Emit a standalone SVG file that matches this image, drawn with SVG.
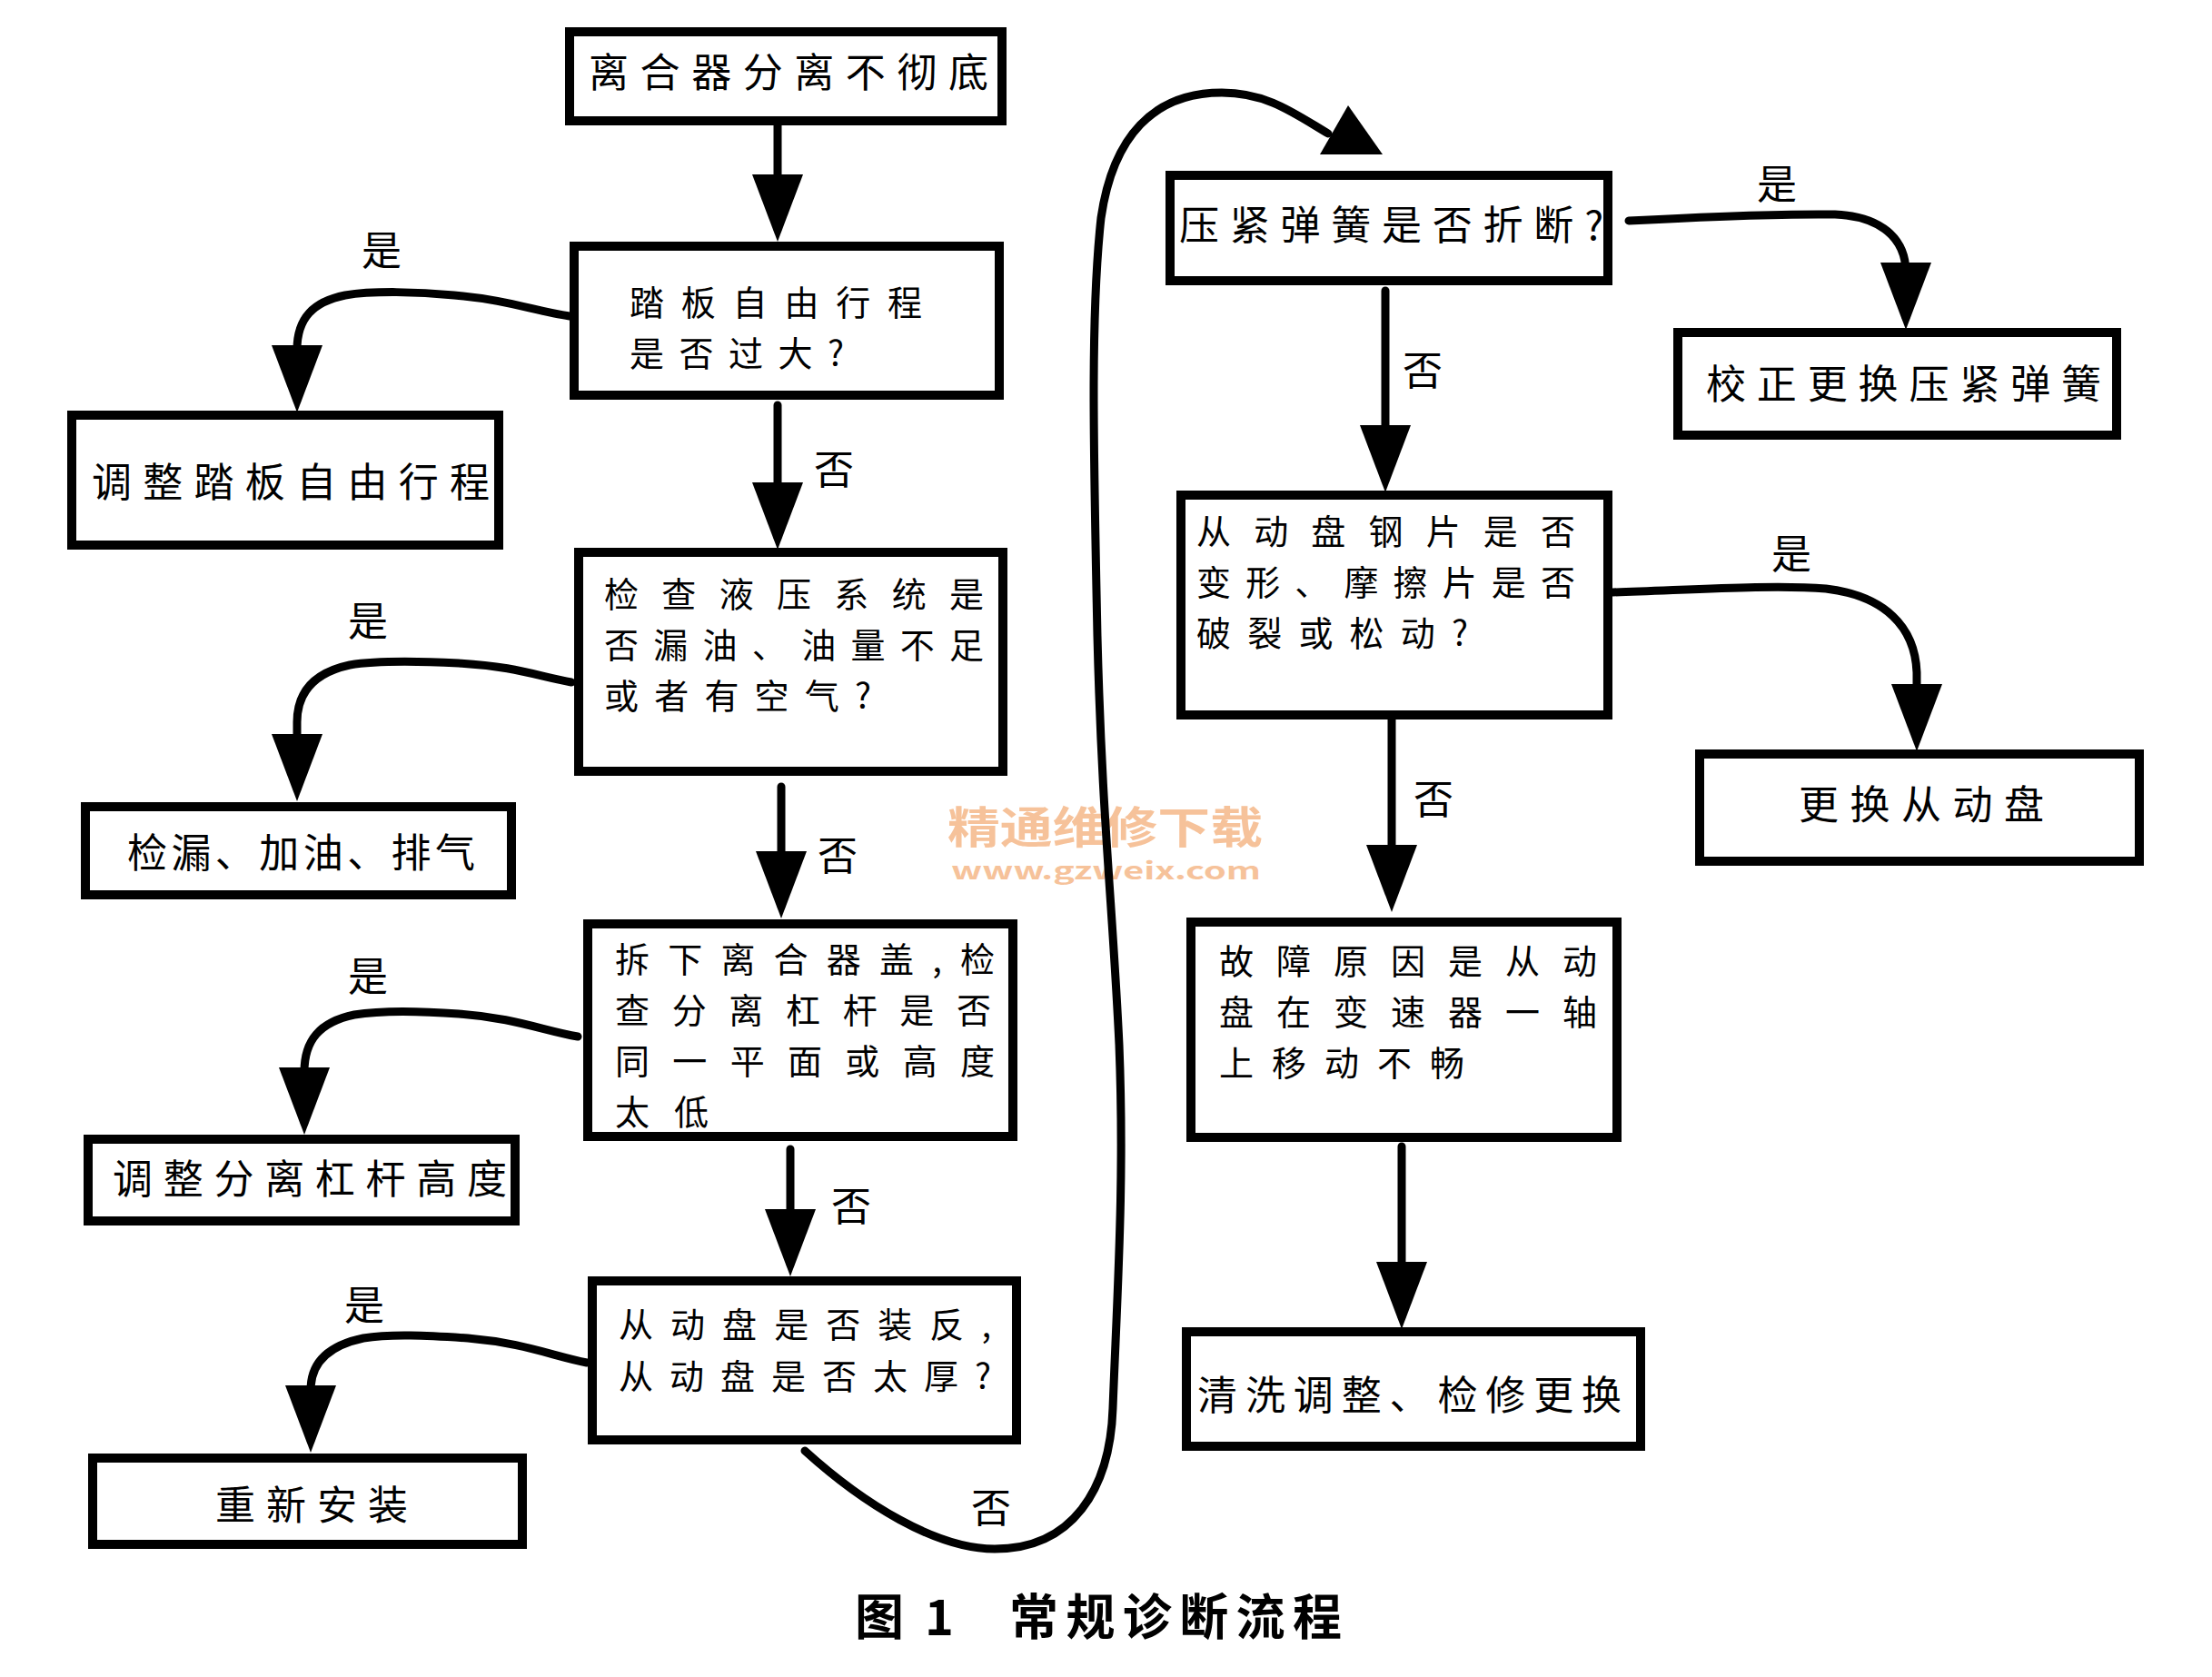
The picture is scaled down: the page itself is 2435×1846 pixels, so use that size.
<svg xmlns="http://www.w3.org/2000/svg" width="2435" height="1846" viewBox="0 0 2435 1846">
<style>
.box{fill:#fff;stroke:#000;stroke-width:10}
.t{font-family:"Noto Sans CJK SC","Noto Sans CJK TC",sans-serif;font-size:44px;fill:#000}
.m{font-family:"Noto Sans CJK SC","Noto Sans CJK TC",sans-serif;font-size:38px;fill:#000}
.lbl{font-family:"Noto Sans CJK SC",sans-serif;font-size:44px;fill:#000;text-anchor:middle}
.ln{fill:none;stroke:#000;stroke-width:9;stroke-linecap:round}
.cap{font-family:"Noto Sans CJK SC",sans-serif;font-size:54px;font-weight:bold;fill:#000}
.wm{font-family:"Noto Sans CJK SC",sans-serif;font-weight:bold;fill:#f6c29a}
</style>
<defs>
<marker id="ah" markerUnits="userSpaceOnUse" markerWidth="74" markerHeight="56" viewBox="0 0 74 56" refX="60" refY="28" orient="auto">
<path d="M0,0 L74,28 L0,56 Z" fill="#000"/>
</marker>
</defs>
<rect width="2435" height="1846" fill="#fff"/>

<g id="watermark">
<text class="wm" x="1043" y="928" font-size="48" textLength="347" lengthAdjust="spacingAndGlyphs">精通维修下载</text>
<text class="wm" x="1047" y="968" font-size="26" font-family="Liberation Sans, sans-serif" textLength="341" lengthAdjust="spacingAndGlyphs">www.gzweix.com</text>
</g>

<g id="connectors">
<path class="ln" d="M856,138 L856,252" marker-end="url(#ah)"/>
<path class="ln" d="M627,348 C590,343 560,330 500,325 C460,321 410,320 380,325 C345,332 327,350 327,385 L327,440" marker-end="url(#ah)"/>
<path class="ln" d="M856,446 L856,591" marker-end="url(#ah)"/>
<path class="ln" d="M629,751 C595,745 565,733 505,730 C465,728 415,727 385,732 C348,740 327,760 327,795 L327,868" marker-end="url(#ah)"/>
<path class="ln" d="M860,866 L860,997" marker-end="url(#ah)"/>
<path class="ln" d="M636,1141 C600,1135 565,1120 505,1116 C465,1113 420,1112 390,1117 C352,1125 335,1145 335,1180 L335,1235" marker-end="url(#ah)"/>
<path class="ln" d="M870,1265 L870,1391" marker-end="url(#ah)"/>
<path class="ln" d="M646,1500 C610,1493 575,1478 515,1473 C470,1470 430,1468 400,1473 C362,1481 342,1500 342,1530 L342,1585" marker-end="url(#ah)"/>
<path class="ln" d="M886,1597 C950,1655 1030,1705 1095,1705 C1180,1705 1222,1640 1225,1550 C1230,1420 1238,1300 1232,1150 C1225,1000 1213,900 1208,700 C1204,500 1200,350 1212,240 C1225,150 1270,102 1345,102 C1395,102 1425,125 1462,147"/>
<polygon points="1453,170 1522,170 1484,116" fill="#000"/>
<path class="ln" d="M1793,243 C1850,240 1950,235 2020,236 C2070,238 2098,262 2098,300 L2098,349" marker-end="url(#ah)"/>
<path class="ln" d="M1525,320 L1525,528" marker-end="url(#ah)"/>
<path class="ln" d="M1775,652 C1850,650 1950,643 2010,648 C2075,656 2108,690 2110,740 L2110,813" marker-end="url(#ah)"/>
<path class="ln" d="M1532,792 L1532,990" marker-end="url(#ah)"/>
<path class="ln" d="M1543,1262 L1543,1449" marker-end="url(#ah)"/>
<text class="lbl" x="420" y="292">是</text>
<text class="lbl" x="918" y="533">否</text>
<text class="lbl" x="405" y="700">是</text>
<text class="lbl" x="922" y="958">否</text>
<text class="lbl" x="405" y="1091">是</text>
<text class="lbl" x="937" y="1344">否</text>
<text class="lbl" x="401" y="1453">是</text>
<text class="lbl" x="1091" y="1676">否</text>
<text class="lbl" x="1956" y="219">是</text>
<text class="lbl" x="1566" y="424">否</text>
<text class="lbl" x="1972" y="626">是</text>
<text class="lbl" x="1578" y="896">否</text>
</g>

<g id="n1"><rect class="box" x="627" y="35" width="476" height="98"/>
<text class="t" x="648" y="96" textLength="440" lengthAdjust="spacing">离合器分离不彻底</text></g>

<g id="n2"><rect class="box" x="632" y="271" width="468" height="164"/>
<text class="m" x="693" y="347" textLength="322" lengthAdjust="spacing">踏板自由行程</text>
<text class="m" x="693" y="403" textLength="236" lengthAdjust="spacing">是否过大?</text></g>

<g id="n3"><rect class="box" x="79" y="457" width="470" height="143"/>
<text class="t" x="101" y="547" textLength="438" lengthAdjust="spacing">调整踏板自由行程</text></g>

<g id="n4"><rect class="box" x="637" y="608" width="467" height="241"/>
<text class="m" x="665" y="668" textLength="418" lengthAdjust="spacing">检查液压系统是</text>
<text class="m" x="665" y="724" textLength="418" lengthAdjust="spacing">否漏油、油量不足</text>
<text class="m" x="665" y="780" textLength="294" lengthAdjust="spacing">或者有空气?</text></g>

<g id="n5"><rect class="box" x="94" y="888" width="469" height="97"/>
<text class="t" x="140" y="955" textLength="383" lengthAdjust="spacing">检漏、加油、排气</text></g>

<g id="n6"><rect class="box" x="647" y="1017" width="468" height="234"/>
<text class="m" x="677" y="1070" textLength="418" lengthAdjust="spacing">拆下离合器盖,检</text>
<text class="m" x="677" y="1126" textLength="414" lengthAdjust="spacing">查分离杠杆是否</text>
<text class="m" x="677" y="1182" textLength="418" lengthAdjust="spacing">同一平面或高度</text>
<text class="m" x="677" y="1238" textLength="103" lengthAdjust="spacing">太低</text></g>

<g id="n7"><rect class="box" x="97" y="1254" width="470" height="90"/>
<text class="t" x="124" y="1314" textLength="434" lengthAdjust="spacing">调整分离杠杆高度</text></g>

<g id="n8"><rect class="box" x="652" y="1410" width="467" height="175"/>
<text class="m" x="681" y="1472" textLength="410" lengthAdjust="spacing">从动盘是否装反,</text>
<text class="m" x="681" y="1529" textLength="410" lengthAdjust="spacing">从动盘是否太厚?</text></g>

<g id="n9"><rect class="box" x="102" y="1605" width="473" height="95"/>
<text class="t" x="237" y="1673" textLength="212" lengthAdjust="spacing">重新安装</text></g>

<g id="n10"><rect class="box" x="1288" y="193" width="482" height="116"/>
<text class="t" x="1298" y="264" textLength="467" lengthAdjust="spacing">压紧弹簧是否折断?</text></g>

<g id="n11"><rect class="box" x="1847" y="366" width="483" height="113"/>
<text class="t" x="1878" y="439" textLength="435" lengthAdjust="spacing">校正更换压紧弹簧</text></g>

<g id="n12"><rect class="box" x="1300" y="545" width="470" height="242"/>
<text class="m" x="1317" y="599" textLength="417" lengthAdjust="spacing">从动盘钢片是否</text>
<text class="m" x="1317" y="655" textLength="417" lengthAdjust="spacing">变形、摩擦片是否</text>
<text class="m" x="1317" y="711" textLength="299" lengthAdjust="spacing">破裂或松动?</text></g>

<g id="n13"><rect class="box" x="1871" y="830" width="484" height="118"/>
<text class="t" x="1980" y="902" textLength="270" lengthAdjust="spacing">更换从动盘</text></g>

<g id="n14"><rect class="box" x="1311" y="1015" width="469" height="237"/>
<text class="m" x="1342" y="1072" textLength="416" lengthAdjust="spacing">故障原因是从动</text>
<text class="m" x="1342" y="1128" textLength="416" lengthAdjust="spacing">盘在变速器一轴</text>
<text class="m" x="1342" y="1184" textLength="270" lengthAdjust="spacing">上移动不畅</text></g>

<g id="n15"><rect class="box" x="1306" y="1466" width="500" height="126"/>
<text class="t" x="1318" y="1552" textLength="467" lengthAdjust="spacing">清洗调整、检修更换</text></g>

<g id="caption">
<text class="cap" x="941" y="1800">图</text>
<text class="cap" x="1018" y="1800" font-family="Liberation Serif, serif">1</text>
<text class="cap" x="1111" y="1800" textLength="366" lengthAdjust="spacing">常规诊断流程</text>
</g>
</svg>
